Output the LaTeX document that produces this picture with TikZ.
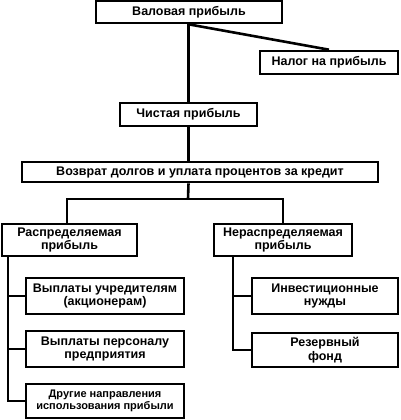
\documentclass[tikz,border=0pt]{standalone}
\usepackage{fontspec}
\setmainfont{Liberation Sans}
\usetikzlibrary{positioning}
\tikzset{>=stealth}

\begin{document}
\begin{tikzpicture}[x=1pt, y=-1pt, line width=2.6pt,
    box/.style={draw, rectangle, inner sep=1pt, align=center, font=\bfseries\fontsize{12.5}{13.5}\selectfont}]
    \useasboundingbox (0,0) rectangle (400,420);
    \node (gross) [box, minimum width=186pt, minimum height=22pt] at (189,12) {Валовая прибыль};
    \node (tax) [box, minimum width=138pt, minimum height=23pt] at (329,62.5) {Налог на прибыль};
    \node (net) [box, minimum width=137pt, minimum height=23pt] at (188.5,114.5) {Чистая прибыль};
    \node (debt) [box, minimum width=356pt, minimum height=20pt] at (200,172) {Возврат долгов и уплата процентов за кредит};
    \node (dist) [box, minimum width=135pt, minimum height=32pt] at (69.5,240) {Распределяемая\\прибыль};
    \node (undist) [box, minimum width=138pt, minimum height=32pt] at (283,240) {Нераспределяемая\\прибыль};
    \node (pay1) [box, minimum width=158pt, minimum height=36pt] at (105,296) {Выплаты учредителям\\(акционерам)};
    \node (pay2) [box, minimum width=158pt, minimum height=36pt] at (105,349) {Выплаты персоналу\\предприятия};
    \node (other) [box, minimum width=158pt, minimum height=34pt, font=\bfseries\fontsize{11}{12}\selectfont] at (105,401) {Другие направления\\использования прибыли};
    \node (inv) [box, minimum width=146pt, minimum height=36pt] at (325,296) {Инвестиционные\\нужды};
    \node (res) [box, minimum width=146pt, minimum height=34pt] at (325,350) {Резервный\\фонд};

    \coordinate (split) at (188,199);
    \coordinate (lspine) at (8,257);
    \coordinate (rspine) at (233,257);

    \draw (gross.south -| net.south) -- (net.north);
    \draw (gross.south -| net.south) -- (tax.north);
    \draw (net.south) -- (net.south |- debt.north);
    \draw (net.south |- debt.south) -- (split);
    \draw (dist.north -| 67,0) |- (split) -| (undist.north);
    \draw (lspine) |- (other.west);
    \draw (lspine |- pay1.west) -- (pay1.west);
    \draw (lspine |- pay2.west) -- (pay2.west);
    \draw (rspine) |- (res.west);
    \draw (rspine |- inv.west) -- (inv.west);
\end{tikzpicture}
\end{document}
